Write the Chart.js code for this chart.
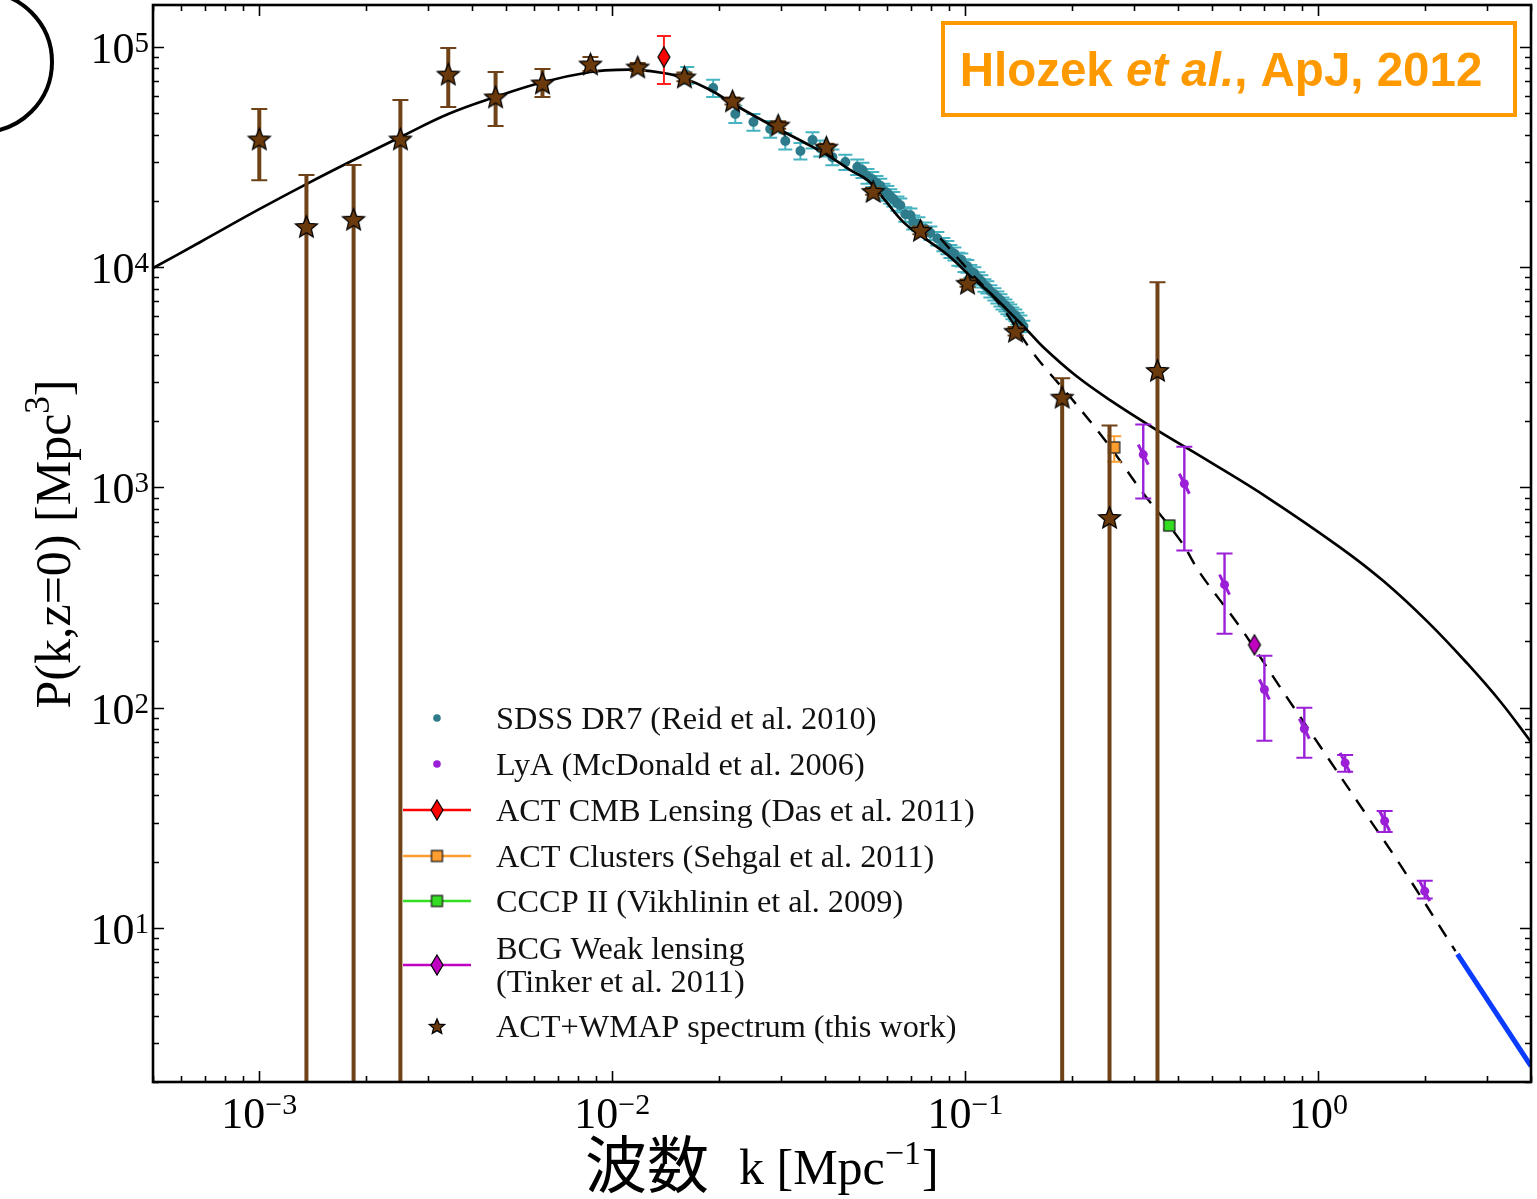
<!DOCTYPE html>
<html>
<head>
<meta charset="utf-8">
<script src="https://cdn.jsdelivr.net/npm/chart.js@4.4.0/dist/chart.umd.min.js"></script>
<style>
  html, body { margin: 0; padding: 0; background: #fff; }
  #wrap { position: relative; width: 1537px; height: 1199px; }
</style>
</head>
<body>
<div id="wrap"><canvas id="pk"></canvas></div>
<script>
// ---- data ----
// SDSS DR7 band powers
const sdssK = [0.0163,0.0193,0.0223,0.0251,0.0280,0.0309,0.0341,0.0369,0.0388,0.0420,0.0457,0.0494,0.0511,0.0528,0.0545,0.0560,0.0574,0.0586,0.0601,0.0613,0.0625,0.0642,0.0654,0.0676,0.0699,0.0712,0.0736,0.0770,0.0796,0.0833,0.0866,0.0889,0.0907,0.0931,0.0955,0.0974,0.0994,0.1013,0.1033,0.1060,0.1089,0.1110,0.1132,0.1154,0.1177,0.1208,0.1232,0.1257,0.1273,0.1298,0.1315,0.1341,0.1358,0.1385,0.1404,0.1432,0.1460];
const sdssP = [74600,65100,49600,45600,42400,37400,33700,37800,34700,31600,30000,28500,27600,25900,25100,24100,23400,22200,21700,21000,20400,19500,19100,17400,17200,16000,15700,14900,14300,13500,12700,12300,11800,11500,10900,10800,10200,10100,9590,9390,8910,8640,8280,8110,7780,7540,7300,7080,6860,6720,6510,6380,6180,6050,5860,5680,5390];
const sdssErr = [6500,5800,4400,4000,3700,3200,2900,3200,2900,2600,2400,2300,2200,2000,1950,1850,1800,1700,1650,1600,1550,1450,1400,1300,1250,1150,1150,1050,1000,950,880,850,800,780,740,730,680,670,630,610,580,560,540,520,500,480,460,450,430,420,400,390,380,370,360,350,330];

// Lyman-alpha forest
const lyaK  = [0.319,0.417,0.542,0.703,0.912,1.19,1.54,2.00];
const lyaP  = [1410,1040,362,121,80.3,56.2,30.6,14.7];
const lyaHi = [1930,1530,501,172,100,61.1,34.0,16.4];
const lyaLo = [891,517,217,70.8,59.3,51.2,27.3,13.6];

// single points
const cmbK = [0.0140], cmbP = [90000], cmbHi = [112000], cmbLo = [67900];
const clusK = [0.264], clusP = [1520], clusHi = [1710], clusLo = [1310];
const cccpK = [0.378], cccpP = [672], cccpHi = [700], cccpLo = [645];
const bcgK = [0.659], bcgP = [193];

// ACT+WMAP reconstructed spectrum (lower bound 0.5 = runs off the axis)
const starK  = [0.00100,0.00136,0.00185,0.00251,0.00343,0.00467,0.00634,0.00867,0.0118,0.0160,0.0219,0.0295,0.0404,0.0548,0.0746,0.1014,0.1387,0.188,0.256,0.350];
const starP  = [38200,15300,16500,38200,75300,59300,68600,83700,81100,73100,56900,44200,35100,22100,14700,8460,5120,2570,731,3400];
const starHi = [52300,26200,29100,57400,99000,77000,79400,90000,84500,76500,59000,46000,36300,22900,15300,8800,5350,3130,1910,8550];
const starLo = [24800,0.5,0.5,0.5,53400,43800,59300,77800,77800,69800,54800,42500,33900,21300,14100,8150,4900,0.5,0.5,0.5];

// model curves
const nlK = [5.0e-4,6.81e-4,1.0e-3,1.36e-3,1.85e-3,2.51e-3,3.43e-3,4.66e-3,6.38e-3,8.66e-3,1.033e-2,1.177e-2,1.395e-2,1.589e-2,1.895e-2,2.203e-2,2.557e-2,2.99e-2,3.477e-2,4.065e-2,4.722e-2,5.278e-2,5.857e-2,6.674e-2,7.805e-2,9.067e-2,0.1033,0.1177,0.1404,0.1498,0.1663,0.2049,0.2575,0.3499,0.4849,0.7171,1.154,1.528,2.036,2.643,3.278,4.0];
const nlP = [9900,13020,18340,23840,30650,38980,49600,59260,69330,76970,78600,78600,76170,72300,63750,55070,48060,41950,37000,32300,27600,24860,20590,16020,13270,11100,9100,7617,5743,5170,4329,3230,2486,1816,1327,900.5,533.7,376,246,158.5,106.5,70];
const linK = [0.0849,0.1033,0.1257,0.1558,0.1984,0.2526,0.3193,0.4065,0.4632,0.6012,0.7805,1.013,1.315,1.707,2.444];
const linP = [13540,9490,6720,4066,2566,1585,939,574,406.6,231,123.3,66.5,35.8,19.3,7.86];
const blueK = [2.476, 4.0];
const blueP = [7.62, 2.36];

const xTicks = [1e-3, 1e-2, 1e-1, 1];
const yTicks = [1e1, 1e2, 1e3, 1e4, 1e5];

// ---- marker images ----
function starImg(r, fill) {
  const s = Math.ceil(r * 2 + 4), c = document.createElement('canvas');
  c.width = c.height = s;
  const g = c.getContext('2d');
  g.beginPath();
  for (let i = 0; i < 10; i++) {
    const rr = i % 2 ? r * 0.45 : r, a = -Math.PI / 2 + i * Math.PI / 5;
    g.lineTo(s / 2 + rr * Math.cos(a), s / 2 + 1 + rr * Math.sin(a));
  }
  g.closePath();
  g.fillStyle = fill; g.fill();
  g.lineWidth = 1.3; g.strokeStyle = '#000'; g.stroke();
  return c;
}
function diamondImg(w, h, fill) {
  const c = document.createElement('canvas');
  c.width = w + 4; c.height = h + 4;
  const g = c.getContext('2d');
  g.beginPath();
  g.moveTo(c.width / 2, 2); g.lineTo(c.width - 2, c.height / 2);
  g.lineTo(c.width / 2, c.height - 2); g.lineTo(2, c.height / 2);
  g.closePath();
  g.fillStyle = fill; g.fill();
  g.lineWidth = 1.2; g.strokeStyle = '#000'; g.stroke();
  return c;
}
function squareImg(w, fill) {
  const c = document.createElement('canvas');
  c.width = c.height = w + 4;
  const g = c.getContext('2d');
  g.fillStyle = fill; g.fillRect(2, 2, w, w);
  g.lineWidth = 1.3; g.strokeStyle = '#222'; g.strokeRect(2, 2, w, w);
  return c;
}

const STAR = '#6a3a0c', STAR_ERR = '#6f4317';
const SDSS = '#2e7b8b', SDSS_ERR = '#46b4c0';
const LYA = '#9a1fd7';
const starBig = starImg(11.5, STAR), starSmall = starImg(8, STAR);
const redDia = diamondImg(12, 20, '#ff0000'), magDia = diamondImg(12, 20, '#c000c0');
const orSq = squareImg(11, '#ff9d2e'), grSq = squareImg(11, '#33dd22');

const pts = (xs, ys) => xs.map((x, i) => ({ x: x, y: ys[i] }));

// ---- error bars drawn through the scales, just before each dataset ----
const errorBars = {
  id: 'errorBars',
  beforeDatasetDraw(chart, args) {
    const ds = chart.data.datasets[args.index];
    if (!ds.errHi) return;
    const { ctx, chartArea: a, scales: { x, y } } = chart;
    ctx.save();
    ctx.beginPath(); ctx.rect(a.left, a.top, a.right - a.left, a.bottom - a.top); ctx.clip();
    ctx.strokeStyle = ds.errColor;
    ds.data.forEach((p, i) => {
      const px = x.getPixelForValue(p.x);
      const yt = y.getPixelForValue(ds.errHi[i]);
      const yb = y.getPixelForValue(ds.errLo[i]);
      ctx.lineWidth = ds.errWidth;
      ctx.beginPath(); ctx.moveTo(px, yt); ctx.lineTo(px, yb); ctx.stroke();
      ctx.lineWidth = ds.capLine;
      ctx.beginPath();
      ctx.moveTo(px - ds.capHalf, yt); ctx.lineTo(px + ds.capHalf, yt);
      ctx.moveTo(px - ds.capHalf, yb); ctx.lineTo(px + ds.capHalf, yb);
      ctx.stroke();
      if (ds.slant) {
        const py = y.getPixelForValue(p.y);
        ctx.lineWidth = 3;
        ctx.beginPath(); ctx.moveTo(px - 5, py - 10); ctx.lineTo(px + 5, py + 10); ctx.stroke();
      }
    });
    ctx.restore();
  }
};

// ---- frame, inward ticks, labels, legend, annotation ----
const SERIF = '"Liberation Serif", "Times New Roman", serif';
function pow10(ctx, e, x, y, align, f, fs, raise) {
  const es = e < 0 ? '\u2212' + (-e) : String(e);
  ctx.font = f + 'px ' + SERIF; const w1 = ctx.measureText('10').width;
  ctx.font = fs + 'px ' + SERIF; const w2 = ctx.measureText(es).width;
  const x0 = align === 'center' ? x - (w1 + w2) / 2 : x - (w1 + w2);
  ctx.font = f + 'px ' + SERIF; ctx.fillText('10', x0, y);
  ctx.font = fs + 'px ' + SERIF; ctx.fillText(es, x0 + w1, y - raise);
}

const legendRows = [
  { label: ['SDSS DR7 (Reid et al. 2010)'], dot: SDSS },
  { label: ['LyA (McDonald et al. 2006)'], dot: LYA },
  { label: ['ACT CMB Lensing (Das et al. 2011)'], line: '#ff0000', img: redDia },
  { label: ['ACT Clusters (Sehgal et al. 2011)'], line: '#ff9d2e', img: orSq },
  { label: ['CCCP II (Vikhlinin et al. 2009)'], line: '#33dd22', img: grSq },
  { label: ['BCG Weak lensing', '(Tinker et al. 2011)'], line: '#c000c0', img: magDia },
  { label: ['ACT+WMAP spectrum (this work)'], img: starSmall }
];

const decor = {
  id: 'decor',
  afterDraw(chart) {
    const { ctx, chartArea: a, scales: { x, y } } = chart;
    ctx.save();
    ctx.strokeStyle = '#000'; ctx.fillStyle = '#000';

    // inward ticks on all four sides
    ctx.lineWidth = 1.6;
    const dec = (lo, hi, cb) => {
      for (let d = Math.floor(Math.log10(lo)); d <= Math.ceil(Math.log10(hi)); d++)
        for (let m = 1; m < 10; m++) {
          const v = m * Math.pow(10, d);
          if (v >= lo * 0.999 && v <= hi * 1.001) cb(v, m === 1);
        }
    };
    ctx.beginPath();
    dec(x.min, x.max, (v, major) => {
      const px = Math.round(x.getPixelForValue(v)) + 0.5, L = major ? 11 : 6;
      ctx.moveTo(px, a.bottom); ctx.lineTo(px, a.bottom - L);
      ctx.moveTo(px, a.top); ctx.lineTo(px, a.top + L);
    });
    dec(y.min, y.max, (v, major) => {
      const py = Math.round(y.getPixelForValue(v)) + 0.5, L = major ? 11 : 6;
      ctx.moveTo(a.left, py); ctx.lineTo(a.left + L, py);
      ctx.moveTo(a.right, py); ctx.lineTo(a.right - L, py);
    });
    ctx.stroke();
    ctx.lineWidth = 2.6;
    ctx.strokeRect(a.left, a.top, a.right - a.left, a.bottom - a.top);

    // tick labels
    ctx.textAlign = 'left'; ctx.textBaseline = 'alphabetic';
    xTicks.forEach(v => pow10(ctx, Math.round(Math.log10(v)), x.getPixelForValue(v), a.bottom + 46, 'center', 44, 30, 14));
    yTicks.forEach(v => pow10(ctx, Math.round(Math.log10(v)), a.left - 4, y.getPixelForValue(v) + 16, 'right', 44, 29, 11));

    // x title
    let cx = 585;
    ctx.font = '62px "Noto Sans CJK JP", sans-serif';
    ctx.fillText('波数', cx, 1188);
    cx += ctx.measureText('波数').width + 30;
    ctx.font = '50px ' + SERIF; ctx.fillText('k [Mpc', cx, 1184); cx += ctx.measureText('k [Mpc').width;
    ctx.font = '34px ' + SERIF; ctx.fillText('\u22121', cx, 1164); cx += ctx.measureText('\u22121').width + 1;
    ctx.font = '50px ' + SERIF; ctx.fillText(']', cx, 1184);

    // y title (rotated)
    ctx.save();
    ctx.translate(70, 544); ctx.rotate(-Math.PI / 2);
    ctx.font = '50px ' + SERIF; const t1 = 'P(k,z=0) [Mpc', w1 = ctx.measureText(t1).width, w3 = ctx.measureText(']').width;
    ctx.font = '35px ' + SERIF; const w2 = ctx.measureText('3').width;
    let tx = -(w1 + w2 + w3) / 2;
    ctx.font = '50px ' + SERIF; ctx.fillText(t1, tx, 0); tx += w1;
    ctx.font = '35px ' + SERIF; ctx.fillText('3', tx, -21); tx += w2;
    ctx.font = '50px ' + SERIF; ctx.fillText(']', tx, 0);
    ctx.restore();

    // legend
    const rowY = [718, 764, 810, 856, 901, 965, 1026];
    legendRows.forEach((r, i) => {
      const cy = rowY[i];
      if (r.line) {
        ctx.strokeStyle = r.line; ctx.lineWidth = 2.5;
        ctx.beginPath(); ctx.moveTo(403, cy); ctx.lineTo(471, cy); ctx.stroke();
      }
      if (r.dot) { ctx.fillStyle = r.dot; ctx.beginPath(); ctx.arc(437, cy, 3.8, 0, Math.PI * 2); ctx.fill(); }
      if (r.img) ctx.drawImage(r.img, 437 - r.img.width / 2, cy - r.img.height / 2);
      ctx.fillStyle = '#111'; ctx.font = '32.3px ' + SERIF;
      if (r.label.length === 1) ctx.fillText(r.label[0], 496, cy + 11);
      else { ctx.fillText(r.label[0], 496, cy - 17 + 11); ctx.fillText(r.label[1], 496, cy + 16 + 11); }
    });

    // citation box
    ctx.strokeStyle = '#ff9900'; ctx.lineWidth = 4;
    ctx.strokeRect(943, 23, 572, 92);
    ctx.fillStyle = '#ff9900';
    const parts = [['Hlozek ', 'bold'], ['et al.', 'italic bold'], [', ApJ, 2012', 'bold']];
    const F = ' 47.5px "Liberation Sans", Arial, sans-serif';
    let tw = 0;
    parts.forEach(p => { ctx.font = p[1] + F; tw += ctx.measureText(p[0]).width; });
    let bx = 943 + 278 - tw / 2;
    parts.forEach(p => { ctx.font = p[1] + F; ctx.fillText(p[0], bx, 86); bx += ctx.measureText(p[0]).width; });

    // partial circle at top-left corner
    ctx.strokeStyle = '#000'; ctx.lineWidth = 4;
    ctx.beginPath(); ctx.arc(-18, 62, 70, -Math.PI / 2, Math.PI / 2); ctx.stroke();
    ctx.restore();
  }
};

new Chart(document.getElementById('pk'), {
  type: 'scatter',
  data: {
    datasets: [
      { label: 'SDSS DR7 (Reid et al. 2010)', data: pts(sdssK, sdssP), showLine: false,
        pointRadius: 5, pointBackgroundColor: SDSS, pointBorderWidth: 0,
        errHi: sdssP.map((p, i) => p + sdssErr[i]), errLo: sdssP.map((p, i) => p - sdssErr[i]),
        errColor: SDSS_ERR, errWidth: 2, capLine: 2, capHalf: 7, order: 9 },
      { label: 'nonlinear', data: pts(nlK, nlP), showLine: true, borderColor: '#000', borderWidth: 2.7,
        pointRadius: 0, tension: 0.4, order: 8 },
      { label: 'linear', data: pts(linK, linP), showLine: true, borderColor: '#000', borderWidth: 2.4,
        borderDash: [14, 11], pointRadius: 0, tension: 0.4, order: 8 },
      { label: 'halo', data: pts(blueK, blueP), showLine: true, borderColor: '#0a3cff', borderWidth: 5,
        pointRadius: 0, order: 8 },
      { label: 'LyA (McDonald et al. 2006)', data: pts(lyaK, lyaP), showLine: false,
        pointRadius: 4.5, pointBackgroundColor: LYA, pointBorderWidth: 0,
        errHi: lyaHi, errLo: lyaLo, errColor: LYA, errWidth: 2.4, capLine: 2, capHalf: 8, slant: true, order: 7 },
      { label: 'ACT CMB Lensing (Das et al. 2011)', data: pts(cmbK, cmbP), showLine: false,
        pointStyle: redDia, errHi: cmbHi, errLo: cmbLo, errColor: '#ff2020', errWidth: 2, capLine: 2, capHalf: 7, order: 4 },
      { label: 'ACT Clusters (Sehgal et al. 2011)', data: pts(clusK, clusP), showLine: false,
        pointStyle: orSq, errHi: clusHi, errLo: clusLo, errColor: '#ffa030', errWidth: 2, capLine: 2, capHalf: 7, order: 4 },
      { label: 'CCCP II (Vikhlinin et al. 2009)', data: pts(cccpK, cccpP), showLine: false,
        pointStyle: grSq, errHi: cccpHi, errLo: cccpLo, errColor: '#33dd22', errWidth: 2, capLine: 2, capHalf: 6, order: 4 },
      { label: 'BCG Weak lensing (Tinker et al. 2011)', data: pts(bcgK, bcgP), showLine: false,
        pointStyle: magDia, order: 4 },
      { label: 'ACT+WMAP spectrum (this work)', data: pts(starK, starP), showLine: false,
        pointStyle: starBig, errHi: starHi, errLo: starLo, errColor: STAR_ERR, errWidth: 4, capLine: 2, capHalf: 8, order: 1 }
    ]
  },
  options: {
    responsive: true, maintainAspectRatio: false, animation: false, events: [],
    layout: { padding: { top: 5, right: 6, left: 0, bottom: 0 } },
    plugins: { legend: { display: false }, tooltip: { enabled: false } },
    scales: {
      x: { type: 'logarithmic', min: 5e-4, max: 4.0,
           grid: { display: false }, border: { display: false }, ticks: { display: false },
           afterFit: s => { s.height = 117; } },
      y: { type: 'logarithmic', min: 2, max: 1.55e5,
           grid: { display: false }, border: { display: false }, ticks: { display: false },
           afterFit: s => { s.width = 153; } }
    }
  },
  plugins: [errorBars, decor]
});
</script>
</body>
</html>
